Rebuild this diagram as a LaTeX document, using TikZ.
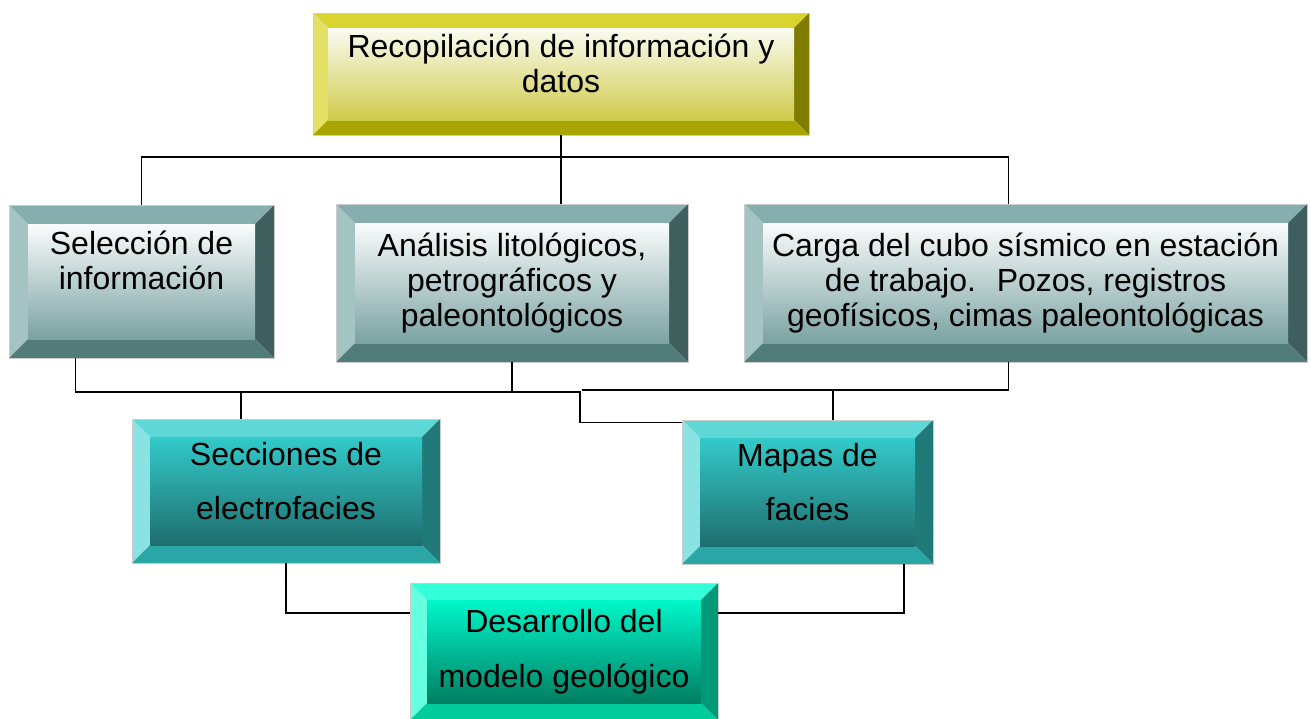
\documentclass[tikz,border=0pt]{standalone}
\usepackage{fontspec}
\setmainfont{Liberation Sans}
\definecolor{olvtop}{HTML}{D9D42F}
\definecolor{olvleft}{HTML}{E3E066}
\definecolor{olvright}{HTML}{7F7D00}
\definecolor{olvbot}{HTML}{A8A400}
\definecolor{olvfacea}{HTML}{FBFBF2}
\definecolor{olvfaceb}{HTML}{CFCB4A}
\definecolor{grytop}{HTML}{86AEAE}
\definecolor{gryleft}{HTML}{A4C4C4}
\definecolor{gryright}{HTML}{3F5F5F}
\definecolor{grybot}{HTML}{527C7A}
\definecolor{gryfacea}{HTML}{FAFCFC}
\definecolor{gryfaceb}{HTML}{7BA2A2}
\definecolor{tealtop}{HTML}{5ED7D7}
\definecolor{tealleft}{HTML}{8AE2E2}
\definecolor{tealright}{HTML}{1F7A78}
\definecolor{tealbot}{HTML}{2BA6A6}
\definecolor{tealfacea}{HTML}{33CACA}
\definecolor{tealfaceb}{HTML}{1F6E6E}
\definecolor{mnttop}{HTML}{33FFD8}
\definecolor{mntleft}{HTML}{66FFE0}
\definecolor{mntright}{HTML}{009977}
\definecolor{mntbot}{HTML}{00CC9C}
\definecolor{mntfacea}{HTML}{00F7CA}
\definecolor{mntfaceb}{HTML}{007E62}
\tikzset{
  bevw/.store in=\bevw, bevw=18pt,
  bevbox/.style n args={6}{draw=gray!40, line width=0.8pt, align=center,
    path picture={
      \path (path picture bounding box.north west) coordinate (pnw)
            (path picture bounding box.north east) coordinate (pne)
            (path picture bounding box.south west) coordinate (psw)
            (path picture bounding box.south east) coordinate (pse)
            ([xshift=\bevw,yshift=-\bevw]pnw) coordinate (inw)
            ([xshift=-\bevw,yshift=-\bevw]pne) coordinate (ine)
            ([xshift=\bevw,yshift=\bevw]psw) coordinate (isw)
            ([xshift=-\bevw,yshift=\bevw]pse) coordinate (ise);
      \fill[#1] (pnw) -- (pne) -- (ine) -- (inw) -- cycle;
      \fill[#2] (pnw) -- (inw) -- (isw) -- (psw) -- cycle;
      \fill[#3] (pne) -- (ine) -- (ise) -- (pse) -- cycle;
      \fill[#4] (psw) -- (isw) -- (ise) -- (pse) -- cycle;
      \shade[top color=#5, bottom color=#6] (inw) rectangle (ise);
    }},
  olvbox/.style={bevbox={olvtop}{olvleft}{olvright}{olvbot}{olvfacea}{olvfaceb}, bevw=15pt},
  grybox/.style={bevbox={grytop}{gryleft}{gryright}{grybot}{gryfacea}{gryfaceb}, bevw=19pt},
  tealbox/.style={bevbox={tealtop}{tealleft}{tealright}{tealbot}{tealfacea}{tealfaceb}, bevw=18pt,
    font=\fontsize{32}{54}\selectfont},
  mntbox/.style={bevbox={mnttop}{mntleft}{mntright}{mntbot}{mntfacea}{mntfaceb}, bevw=17pt,
    font=\fontsize{32}{55}\selectfont},
  link/.style={draw=black, line width=1.5pt}
}
\begin{document}
\begin{tikzpicture}[x=1pt, y=-1pt, font=\fontsize{32}{35}\selectfont]
  \useasboundingbox (0,0) rectangle (1311,718);
  % boxes
  \node[olvbox, minimum width=496pt, minimum height=122pt, text depth=21pt] (recop) at (561,74)
    {Recopilación de información y\\datos};
  \node[grybox, minimum width=265pt, minimum height=153pt, text depth=43pt] (selec) at (141.5,281.5)
    {Selección de\\información};
  \node[grybox, minimum width=352pt, minimum height=158pt] (anal) at (512,283)
    {Análisis litológicos,\\petrográficos y\\paleontológicos};
  \node[grybox, minimum width=563pt, minimum height=158pt] (carga) at (1025.5,283)
    {Carga del cubo sísmico en estación\\de trabajo.~ Pozos, registros\\geofísicos, cimas paleontológicas};
  \node[tealbox, minimum width=308pt, minimum height=144pt, text depth=21pt] (secc) at (286,491)
    {Secciones de\\electrofacies};
  \node[tealbox, minimum width=251pt, minimum height=144pt, text depth=21pt] (mapas) at (807.5,492)
    {Mapas de\\facies};
  \node[mntbox, minimum width=308pt, minimum height=137pt] (desa) at (564,651.5)
    {Desarrollo del\\modelo geológico};
  % junctions
  \coordinate (topbus) at (561,157);
  \coordinate (busl) at (580,392);
  \coordinate (busr) at (582,390);
  \coordinate (low) at (0,613);
  % upper links
  \draw[link] (recop.south) -- (recop.south |- anal.north);
  \draw[link] (selec.north) |- (topbus) -| ([xshift=-17pt]carga.north);
  % middle links
  \draw[link] ([xshift=-66pt]selec.south) |- (busl) |- ([yshift=-3pt]mapas.north west);
  \draw[link] (anal.south) -- (anal.south |- busl);
  \draw[link] ([xshift=-45pt]secc.north) -- ([xshift=-45pt]secc.north |- busl);
  \draw[link] ([xshift=-17pt]carga.south) |- (busr);
  \draw[link] ([xshift=25.5pt]mapas.north) -- ([xshift=25.5pt]mapas.north |- busr);
  % lower links
  \draw[link] (secc.south) |- (desa.west |- low);
  \draw[link] ([xshift=96.5pt]mapas.south) |- (desa.east |- low);
\end{tikzpicture}
\end{document}
